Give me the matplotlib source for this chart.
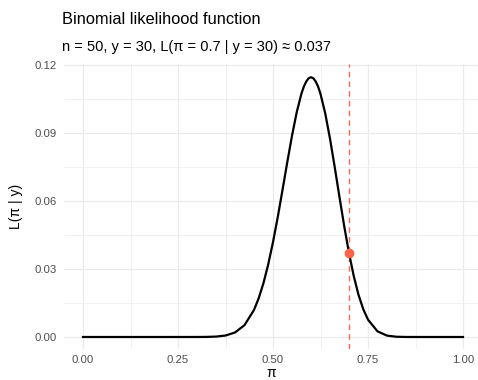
import numpy as np
import matplotlib.pyplot as plt

# likelihood values (n = 50, y = 30)
pi_vals = [0.0, 0.1, 0.2, 0.3, 0.325, 0.35, 0.375, 0.4, 0.425, 0.45, 0.4625,
           0.475, 0.4875, 0.5, 0.5125, 0.525, 0.5375, 0.55, 0.5625, 0.575,
           0.58125, 0.5875, 0.59375, 0.6, 0.60625, 0.6125, 0.61875, 0.625,
           0.6375, 0.65, 0.6625, 0.675, 0.6875,
           0.7, 0.7125, 0.725, 0.7375, 0.75, 0.775, 0.8, 0.825, 0.85, 0.9, 1.0]
lik_vals = [0.0, 0.0, 0.0, 0.0000077, 0.000041, 0.000179, 0.000649, 0.00199,
            0.00523, 0.01194, 0.01716, 0.02384, 0.03209, 0.04186, 0.05288,
            0.06486, 0.07706, 0.08878, 0.09923, 0.10745,
            0.11052, 0.11272, 0.11413, 0.1146, 0.11413, 0.1127, 0.11044,
            0.10725, 0.09861, 0.0875, 0.07488, 0.06167, 0.0488,
            0.03704, 0.02689, 0.01862, 0.01227, 0.00766, 0.00249, 0.000612,
            0.000107, 0.000012, 0.0, 0.0]
pi_obs = 0.7
lik_obs = 0.03704
x_ticks = [0.0, 0.25, 0.5, 0.75, 1.0]
y_ticks = [0.0, 0.03, 0.06, 0.09, 0.12]

plt.rcParams['font.family'] = ['Liberation Sans', 'DejaVu Sans']

fig = plt.figure(figsize=(4.78, 3.8), dpi=100)
ax = fig.add_axes([64 / 478, 31 / 380, 414 / 478, 285 / 380])

# grid like theme_minimal
for v in [0.125, 0.375, 0.625, 0.875]:
    ax.axvline(v, color='#ebebeb', lw=0.5, zorder=0)
for v in [0.015, 0.045, 0.075, 0.105]:
    ax.axhline(v, color='#ebebeb', lw=0.5, zorder=0)
for v in x_ticks:
    ax.axvline(v, color='#ebebeb', lw=0.9, zorder=0)
for v in y_ticks:
    ax.axhline(v, color='#ebebeb', lw=0.9, zorder=0)

ax.plot(pi_vals, lik_vals, color='black', lw=1.6, zorder=3, solid_joinstyle='round')
ax.axvline(pi_obs, color='#fa6a4f', lw=1.0, ls=(0, (4, 3)), zorder=2)
ax.plot([pi_obs], [lik_obs], 'o', color='#fa6449', ms=6, zorder=4)

ax.set_xlim(-0.05, -0.05 + 414 / 380)
ax.set_ylim(-12 / 2266.7, 0.12 + 1 / 2266.7)
ax.set_xticks(x_ticks)
ax.set_xticklabels(['0.00', '0.25', '0.50', '0.75', '1.00'])
ax.set_yticks(y_ticks)
ax.set_yticklabels(['0.00', '0.03', '0.06', '0.09', '0.12'])
ax.tick_params(length=0, labelsize=8.2, labelcolor='#4d4d4d')
ax.tick_params(axis='x', pad=4)
ax.tick_params(axis='y', pad=5)
for s in ax.spines.values():
    s.set_visible(False)

ax.set_xlabel('π', fontsize=10, va='center')
ax.xaxis.set_label_coords(0.5, -24 / 285)
ax.set_ylabel('L(π | y)', fontsize=10, va='center')
ax.yaxis.set_label_coords(-48 / 414, 0.5)

fig.text(62 / 478, 1 - 24 / 380, 'Binomial likelihood function', fontsize=11.8)
fig.text(62 / 478, 1 - 51 / 380, 'n = 50, y = 30, L(π = 0.7 | y = 30) ≈ 0.037', fontsize=10.5)

fig.savefig('out.png', dpi=100)
